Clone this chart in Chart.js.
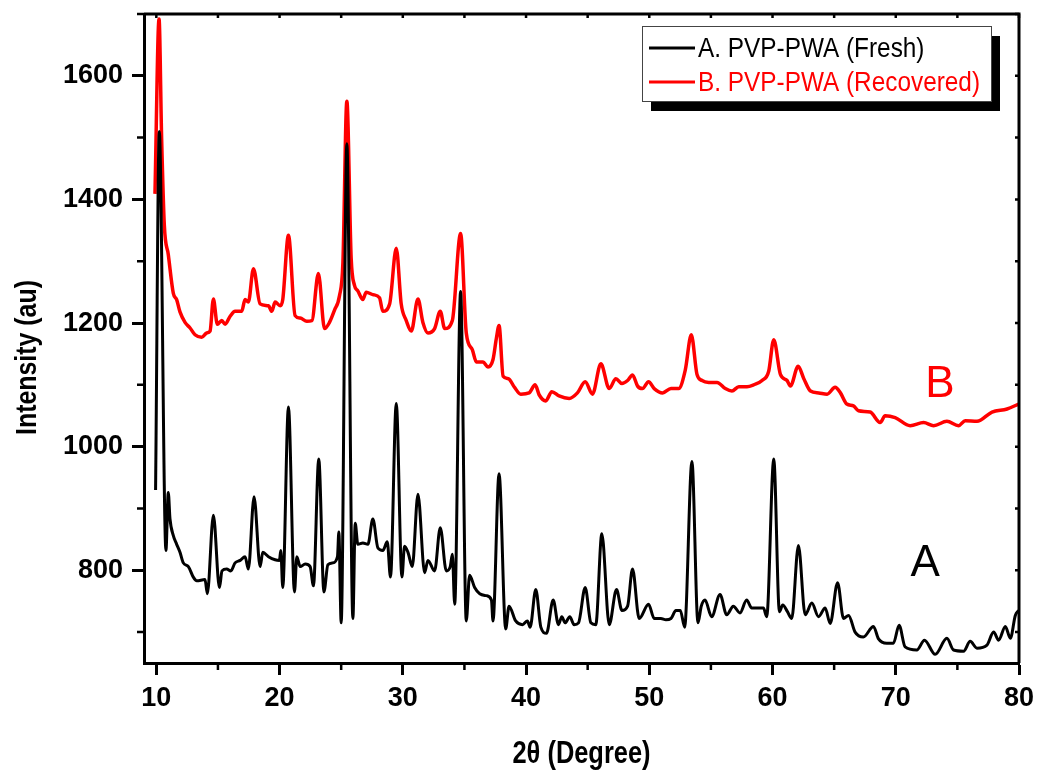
<!DOCTYPE html>
<html>
<head>
<meta charset="utf-8">
<script src="https://cdn.jsdelivr.net/npm/chart.js@4.4.1/dist/chart.umd.min.js"></script>
<style>
  body { margin: 0; background: #fff; }
  canvas { display: block; }
</style>
</head>
<body>
<canvas id="xrd" width="1042" height="772"></canvas>
<script>
const $ = e => document.querySelector(e);

// tick labels
const xTicks = [10, 20, 30, 40, 50, 60, 70, 80];
const xMinor = [15, 25, 35, 45, 55, 65, 75];
const yTicks = [800, 1000, 1200, 1400, 1600];
const yMinor = [700, 900, 1100, 1300, 1500, 1700];

const labels = ['A. PVP-PWA (Fresh)', 'B. PVP-PWA (Recovered)'];
const xTitle = '2θ (Degree)';
const yTitle = 'Intensity (au)';

// A. fresh catalyst
const xA = [9.94, 10.24, 10.78, 10.97, 11.11, 11.38, 11.65, 11.92, 12.19, 12.6, 13.0, 13.28, 13.95, 14.14, 14.63, 15.12, 15.33, 15.71, 16.04, 16.39,
  16.8, 17.2, 17.47, 17.93, 18.42, 18.64, 19.1, 19.64, 19.99, 20.1, 20.26, 20.72, 21.21, 21.4, 21.67, 22.08, 22.48, 22.75, 23.18, 23.6,
  23.92, 24.32, 24.7, 24.81, 25.0, 25.46, 25.95, 26.14, 26.35, 26.76, 27.17, 27.57, 27.98, 28.38, 28.74, 29.0, 29.47, 29.93, 30.14, 30.42,
  30.77, 31.23, 31.77, 32.04, 32.58, 33.04, 33.53, 33.85, 34.02, 34.21, 34.69, 35.15, 35.42, 35.83, 36.24, 36.78, 37.19, 37.32, 37.81, 38.35,
  38.62, 39.16, 39.71, 40.11, 40.33, 40.79, 41.2, 41.66, 42.2, 42.63, 42.9, 43.17, 43.55, 43.9, 44.26, 44.8, 45.26, 45.66, 46.15, 46.75,
  47.34, 47.78, 48.24, 48.64, 49.18, 49.94, 50.4, 50.94, 51.35, 51.76, 52.16, 52.52, 52.87, 53.46, 53.95, 54.22, 54.52, 55.06, 55.74, 56.28,
  56.82, 57.36, 57.9, 58.31, 59.26, 59.53, 60.1, 60.56, 60.83, 61.21, 61.56, 62.1, 62.65, 63.19, 63.73, 64.27, 64.68, 65.28, 65.76, 66.17,
  66.7, 67.37, 68.19, 68.6, 69.27, 69.81, 70.27, 70.76, 71.71, 72.33, 73.2, 74.15, 74.69, 75.5, 76.04, 76.59, 77.4, 77.94, 78.35, 78.89,
  79.3, 79.7, 79.98];
const yA = [930, 1510, 832, 926, 883, 856, 842, 829, 812, 806, 789, 783, 785, 762, 889, 772, 799, 802, 799, 812,
  816, 822, 802, 919, 806, 829, 822, 817, 816, 832, 772, 1064, 765, 822, 806, 810, 806, 775, 980, 765,
  809, 812, 822, 862, 715, 1490, 722, 876, 842, 844, 842, 883, 836, 832, 846, 789, 1070, 789, 839, 829,
  806, 923, 796, 816, 799, 869, 799, 806, 826, 745, 1251, 718, 792, 772, 762, 759, 752, 718, 956, 705,
  742, 718, 712, 718, 708, 769, 708, 698, 752, 712, 725, 715, 725, 712, 715, 772, 715, 712, 859, 712,
  769, 735, 742, 802, 722, 745, 722, 722, 720, 722, 735, 735, 708, 976, 715, 742, 752, 725, 761, 728,
  742, 731, 752, 739, 739, 725, 980, 733, 744, 733, 722, 840, 728, 747, 725, 739, 714, 780, 722, 727,
  700, 692, 709, 689, 682, 682, 711, 676, 671, 687, 664, 690, 671, 669, 685, 674, 679, 700, 687, 709,
  690, 727, 735];

// B. recovered catalyst
const xB = [9.89, 10.22, 10.43, 10.65, 10.97, 11.38, 11.65, 11.92, 12.33, 12.74, 13.14, 13.68, 14.09, 14.36, 14.63, 14.95, 15.31, 15.58, 15.99, 16.39,
  16.93, 17.2, 17.47, 17.88, 18.42, 19.1, 19.37, 19.64, 20.05, 20.26, 20.72, 21.26, 21.67, 22.21, 22.62, 23.15, 23.65, 24.05, 24.46, 24.86,
  25.14, 25.46, 25.81, 26.08, 26.35, 26.76, 27.03, 27.57, 28.11, 28.38, 28.93, 29.47, 29.87, 30.28, 30.69, 31.23, 31.63, 32.04, 32.58, 33.04,
  33.4, 34.02, 34.69, 35.15, 35.64, 35.97, 36.51, 36.91, 37.32, 37.59, 37.81, 38.14, 38.57, 39.03, 39.57, 40.25, 40.74, 41.06, 41.6, 42.09,
  42.68, 43.5, 44.17, 44.8, 45.39, 46.07, 46.75, 47.29, 47.78, 48.24, 48.64, 49.05, 49.45, 49.94, 50.4, 51.08, 51.76, 52.38, 52.92, 53.41,
  53.87, 54.28, 54.82, 55.5, 56.17, 56.71, 57.26, 57.93, 58.47, 59.15, 59.69, 60.1, 60.64, 61.18, 61.45, 62.08, 62.54, 63.08, 63.75, 64.43,
  65.08, 65.51, 66.03, 66.57, 66.97, 67.92, 68.73, 69.14, 69.95, 71.17, 72.26, 73.07, 74.15, 75.1, 75.64, 76.59, 77.81, 79.03, 79.98];
const yB = [1409, 1692, 1499, 1358, 1311, 1248, 1238, 1218, 1201, 1192, 1181, 1177, 1184, 1187, 1239, 1198, 1204, 1198, 1211, 1219,
  1219, 1238, 1234, 1288, 1231, 1228, 1219, 1234, 1228, 1238, 1342, 1212, 1208, 1203, 1204, 1280, 1191, 1201, 1221, 1244,
  1298, 1559, 1305, 1261, 1252, 1238, 1250, 1246, 1241, 1219, 1231, 1321, 1231, 1204, 1187, 1239, 1201, 1184, 1191, 1219,
  1191, 1204, 1345, 1184, 1157, 1137, 1137, 1129, 1141, 1175, 1196, 1114, 1110, 1097, 1085, 1087, 1100, 1084, 1074, 1089,
  1082, 1078, 1087, 1105, 1085, 1134, 1094, 1110, 1102, 1107, 1116, 1098, 1094, 1105, 1094, 1087, 1094, 1094, 1124, 1181,
  1117, 1107, 1104, 1104, 1094, 1090, 1097, 1097, 1100, 1107, 1122, 1173, 1117, 1107, 1098, 1130, 1110, 1090, 1087, 1085,
  1096, 1087, 1069, 1066, 1058, 1056, 1039, 1050, 1047, 1034, 1039, 1034, 1041, 1034, 1042, 1041, 1056, 1061, 1069];

const pts = (xs, ys) => xs.map((v, i) => ({x: v, y: ys[i]}));

const sans = '"Liberation Sans", Arial, sans-serif';

// no narrow font installed, so squeeze the text horizontally
function narrowText(ctx, text, x, y, sx, rot) {
  ctx.save();
  ctx.translate(x, y);
  if (rot) ctx.rotate(rot);
  ctx.scale(sx, 1);
  ctx.fillText(text, 0, 0);
  ctx.restore();
}

// frame, minor ticks, titles, legend box and curve letters
const extras = {
  id: 'extras',
  afterDraw(chart) {
    const {ctx, chartArea: a, scales: {x, y}} = chart;
    ctx.save();
    ctx.strokeStyle = '#000';
    ctx.lineWidth = 3;
    ctx.beginPath();
    ctx.moveTo(a.left, a.top);
    ctx.lineTo(a.right, a.top);
    ctx.lineTo(a.right, a.bottom);
    ctx.stroke();

    ctx.lineWidth = 2.5;
    ctx.beginPath();
    xMinor.forEach(v => {
      const p = x.getPixelForValue(v);
      ctx.moveTo(p, a.bottom); ctx.lineTo(p, a.bottom + 7);
    });
    yMinor.forEach(v => {
      const p = y.getPixelForValue(v);
      ctx.moveTo(a.left, p); ctx.lineTo(a.left - 7, p);
    });
    xTicks.concat(xMinor).forEach(v => {
      const p = x.getPixelForValue(v);
      ctx.moveTo(p, a.top); ctx.lineTo(p, a.top + 4);
    });
    yTicks.concat(yMinor).forEach(v => {
      const p = y.getPixelForValue(v);
      ctx.moveTo(a.right, p); ctx.lineTo(a.right - 4, p);
    });
    ctx.stroke();

    // axis titles
    ctx.fillStyle = '#000';
    ctx.textAlign = 'center';
    ctx.textBaseline = 'middle';
    ctx.font = 'bold 31px ' + sans;
    narrowText(ctx, xTitle, (a.left + a.right) / 2, 754, 0.82);
    ctx.font = 'bold 30px ' + sans;
    narrowText(ctx, yTitle, 28, (a.top + a.bottom) / 2 + 19, 0.83, -Math.PI / 2);

    // legend
    const lx = a.right - 377, ly = a.top + 12, lw = 349, lh = 75;
    ctx.fillStyle = '#000';
    ctx.fillRect(lx + 9, ly + 10, lw, lh);
    ctx.fillStyle = '#fff';
    ctx.fillRect(lx, ly, lw, lh);
    ctx.strokeStyle = '#444';
    ctx.lineWidth = 1;
    ctx.strokeRect(lx + 0.5, ly + 0.5, lw, lh);
    ctx.font = '28px ' + sans;
    ctx.textAlign = 'left';
    chart.data.datasets.forEach((ds, i) => {
      const ry = ly + 22 + i * 34;
      ctx.strokeStyle = ds.borderColor;
      ctx.lineWidth = 3;
      ctx.beginPath();
      ctx.moveTo(lx + 7, ry); ctx.lineTo(lx + 53, ry);
      ctx.stroke();
      ctx.fillStyle = ds.borderColor;
      narrowText(ctx, ds.label, lx + 56, ry + 1, 0.87);
    });

    ctx.font = '44px ' + sans;
    ctx.textBaseline = 'alphabetic';
    ctx.fillStyle = '#ff0000';
    ctx.fillText('B', x.getPixelForValue(72.4), y.getPixelForValue(1080));
    ctx.fillStyle = '#000';
    ctx.fillText('A', x.getPixelForValue(71.2), y.getPixelForValue(791));
    ctx.restore();
  }
};

new Chart($('#xrd'), {
  type: 'line',
  data: {
    datasets: [
      {label: labels[0], data: pts(xA, yA), borderColor: '#000000', borderWidth: 3},
      {label: labels[1], data: pts(xB, yB), borderColor: '#ff0000', borderWidth: 3.5}
    ]
  },
  options: {
    responsive: false,
    animation: false,
    layout: {padding: {top: 14, right: 23, left: 0, bottom: 0}},
    elements: {point: {radius: 0}, line: {cubicInterpolationMode: 'monotone'}},
    plugins: {legend: {display: false}, tooltip: {enabled: false}},
    scales: {
      x: {
        type: 'linear', min: 9, max: 80,
        afterFit: s => { s.height = 109; s.paddingLeft = 0; s.paddingRight = 0; },
        afterBuildTicks: s => { s.ticks = xTicks.map(v => ({value: v})); },
        border: {color: '#000', width: 3},
        grid: {drawOnChartArea: false, tickLength: 12, tickWidth: 3, tickColor: '#000'},
        ticks: {color: '#000', padding: 7, autoSkip: false, maxRotation: 0,
          callback: v => String(v), font: {family: sans, size: 27, weight: 'bold'}}
      },
      y: {
        min: 650, max: 1700,
        afterFit: s => { s.width = 144; s.paddingTop = 0; s.paddingBottom = 0; },
        afterBuildTicks: s => { s.ticks = yTicks.map(v => ({value: v})); },
        border: {color: '#000', width: 3},
        grid: {drawOnChartArea: false, tickLength: 12, tickWidth: 3, tickColor: '#000'},
        ticks: {color: '#000', padding: 9, autoSkip: false,
          callback: v => String(v), font: {family: sans, size: 27, weight: 'bold'}}
      }
    }
  },
  plugins: [extras]
});
</script>
</body>
</html>
